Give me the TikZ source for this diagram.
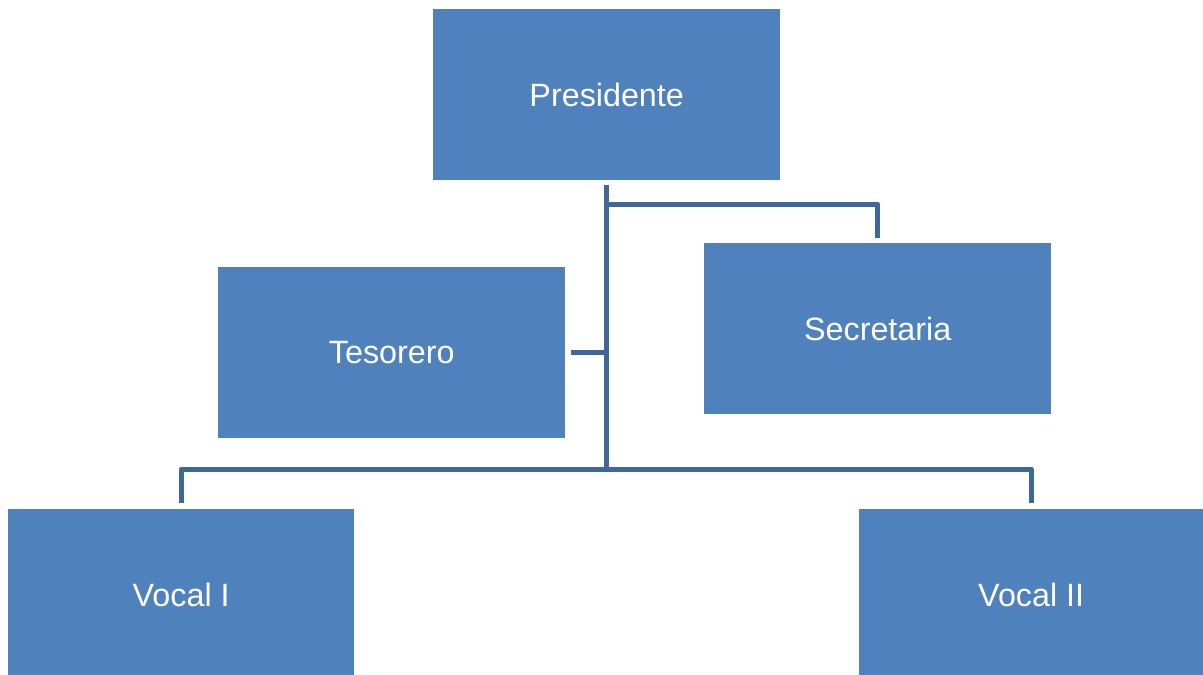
\documentclass[tikz,border=0pt]{standalone}
\usepackage{fontspec}
\setmainfont{Liberation Sans}
\definecolor{boxblue}{HTML}{4F81BD}
\definecolor{lineblue}{HTML}{3F6797}
\begin{document}
\begin{tikzpicture}[x=1pt,y=-1pt,
  orgbox/.style={fill=boxblue,draw=none,minimum width=347pt,minimum height=171pt,inner sep=0pt,text=white,font=\fontsize{32.3}{36}\selectfont,anchor=north west},
  conn/.style={draw=lineblue,line width=5pt}]
\useasboundingbox (0,0) rectangle (1203,675);
\node[orgbox] (pres) at (433,9) {Presidente};
\node[orgbox] (teso) at (218,267) {Tesorero};
\node[orgbox] (secr) at (704,243) {Secretaria};
\node[orgbox,minimum width=346pt,minimum height=172pt] (voc1) at (8,509) {Vocal I};
\node[orgbox,minimum width=344pt,minimum height=172pt] (voc2) at (859,509) {Vocal II};
\coordinate (top) at (606.5,185);
\coordinate (hub) at (606.5,469);
\coordinate (sj) at (606.5,204);
\coordinate (tj) at (606.5,352);
\draw[conn] (top) -- (hub);
\draw[conn,line join=round] (sj) -- (secr.north |- sj) -- ([yshift=5pt]secr.north);
\draw[conn] (tj) -- ([xshift=6pt]teso.east |- tj);
\draw[conn,line join=round] ([yshift=6pt]voc1.north) -- (voc1.north |- hub) -- (voc2.north |- hub) -- ([yshift=6pt]voc2.north);
\end{tikzpicture}
\end{document}
